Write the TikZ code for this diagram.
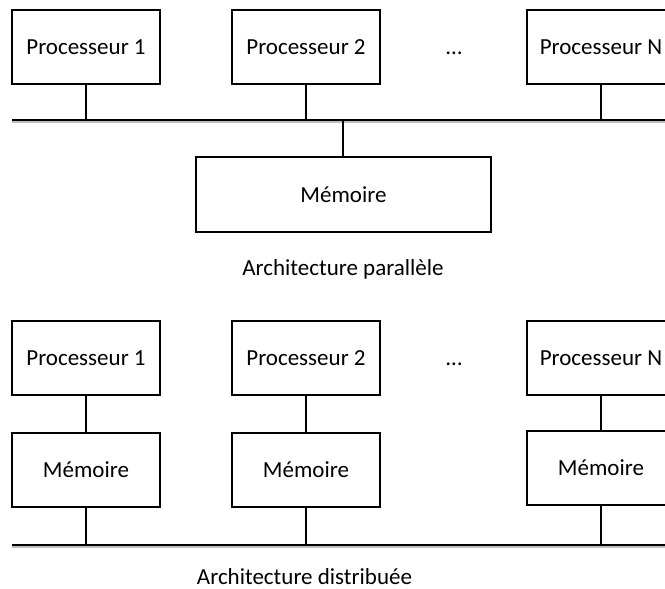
\documentclass[tikz,border=0pt]{standalone}
\usepackage{fontspec}
\setmainfont{Carlito}
\usetikzlibrary{positioning}
\tikzset{
    %Define style for boxes
    unitbox/.style={
           rectangle,
           draw=black, line width=1.6pt,
           minimum width=148pt,
           minimum height=74pt,
           inner sep=0pt, outer sep=0pt,
           font=\fontsize{23}{27}\selectfont,
           text centered,
           },
    bigbox/.style={
           unitbox,
           minimum width=295pt,
           minimum height=75pt,
           },
    dots/.style={
           inner sep=0pt,
           font=\fontsize{23}{27}\selectfont,
           },
    caption/.style={
           inner sep=0pt,
           font=\fontsize{23}{27}\selectfont,
           },
    % Define line styles
    link/.style={
           line width=1.6pt,},
    bus/.style={
           line width=1.8pt,},
    busshadow/.style={
           line width=2pt, black!25,}
}
\begin{document}
\begin{tikzpicture}[x=1pt,y=-1pt,node distance=38pt]
\useasboundingbox (0,0) rectangle (665,589);
\clip (0,0) rectangle (665,589);
% parallel architecture
\node[unitbox] (p1) at (86,47) {Processeur 1};
\node[unitbox] (p2) at (306,47) {Processeur 2};
\node[dots] (d1) at (454,53) {…};
\node[unitbox] (pn) at (601,47) {Processeur N};
\coordinate (busL) at (12,120);
\coordinate (busR) at (665,120);
\node[bigbox] (mem) at (343.5,194.5) {Mémoire};
\node[caption] (capA) at (343,269) {Architecture parallèle};
\draw[busshadow] ([yshift=-2pt]busL) -- ([yshift=-2pt]busR);
\draw[bus] (busL) -- (busR);
\foreach \n in {p1,p2,pn}
    \draw[link] (\n.south) -- (\n.south |- busL);
\draw[link] ([xshift=-0.5pt]mem.north) -- ([xshift=-0.5pt]mem.north |- busL);
% distributed architecture
\node[unitbox] (q1) at (86,358) {Processeur 1};
\node[unitbox] (q2) at (306,358) {Processeur 2};
\node[dots] (d2) at (454,364) {…};
\node[unitbox] (qn) at (601,358) {Processeur N};
\node[unitbox, below=of q1] (r1) {Mémoire};
\node[unitbox, below=of q2] (r2) {Mémoire};
\node[unitbox, below=36pt of qn] (rn) {Mémoire};
\coordinate (bus2L) at (12,545);
\coordinate (bus2R) at (665,545);
\node[caption] (capB) at (304.5,577) {Architecture distribuée};
\draw[busshadow] ([yshift=-2pt]bus2L) -- ([yshift=-2pt]bus2R);
\draw[bus] (bus2L) -- (bus2R);
\foreach \n/\m in {q1/r1,q2/r2,qn/rn}{
    \draw[link] (\n) -- (\m);
    \draw[link] (\m.south) -- (\m.south |- bus2L);
}
\end{tikzpicture}
\end{document}
